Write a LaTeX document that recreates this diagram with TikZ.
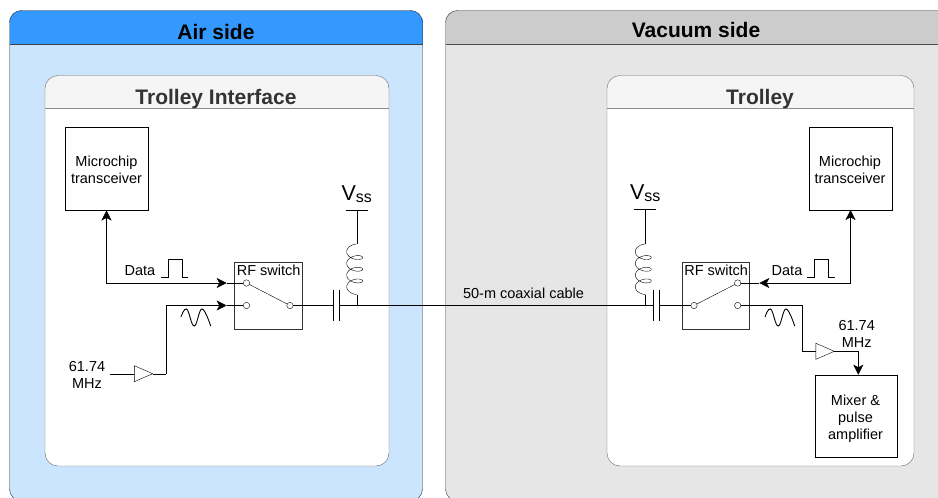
\documentclass[tikz,border=0pt]{standalone}
\usepackage{fontspec}
\setmainfont{Liberation Sans}
\usetikzlibrary{arrows.meta,shapes.geometric}
\definecolor{airhead}{HTML}{3399FF}
\definecolor{airbody}{HTML}{CCE5FF}
\definecolor{vachead}{HTML}{CCCCCC}
\definecolor{vacbody}{HTML}{E6E6E6}
\definecolor{innerhead}{HTML}{F5F5F5}
\definecolor{innerline}{HTML}{666666}
\definecolor{innertext}{HTML}{333333}
\tikzset{
  x=1pt,y=-1pt,
  every node/.style={inner sep=0pt,outer sep=0pt},
  line width=1pt,
  small/.style={font=\fontsize{14.5}{17}\selectfont,align=center},
  paneltitle/.style={font=\fontsize{21}{24}\selectfont\bfseries,text=black},
  innertitle/.style={font=\fontsize{21}{24}\selectfont\bfseries,text=innertext},
  blockbox/.style={draw=black,fill=white,minimum width=83pt,minimum height=83pt},
  switchbox/.style={draw=black!80,minimum width=67.3pt,minimum height=67pt},
  term/.style={circle,draw=black,fill=white,minimum size=6.4pt},
  ampl/.style={isosceles triangle,isosceles triangle stretches,draw=black,fill=white,
     minimum width=16pt,minimum height=18.4pt,anchor=apex},
  vsslabel/.style={font=\fontsize{21.5}{24}\selectfont},
  tipped/.style={-{Stealth[length=10pt,width=10pt,inset=2.6pt]}},
  bothtipped/.style={{Stealth[length=10pt,width=10pt,inset=2.6pt]}-{Stealth[length=10pt,width=10pt,inset=2.6pt]}},
  pics/sinewave/.style={code={
    \draw[line width=0.9pt] plot[smooth,tension=0.7] coordinates {(0,8) (5.7,0) (13.2,17) (21,0) (29.7,17)};
  }},
  pics/coil/.style={code={
    \draw[smooth] plot[domain=-104.5:1184.5,samples=160]
      ({-2-8*cos(\x)},{7.7+11.7*\x/360+4.5*sin(\x)});
  }},
  pics/pulse/.style={code={
    \draw (0,18.7) -- (7.2,18.7) -- (7.2,0) -- (21,0) -- (21,18.7) -- (27.6,18.7);
  }},
}
\newcommand{\vssnode}[2]{\node[vsslabel,anchor=base] (#1) at (#2) {V\raisebox{-2.7pt}{\fontsize{16}{16}\selectfont ss}};}
\begin{document}
\begin{tikzpicture}
\useasboundingbox (0,0) rectangle (938,498);
\fill[white] (0,0) rectangle (938,498);
\clip (0,0) rectangle (938,498);

% outer panels
\fill[airbody,rounded corners=12pt] (9.5,10.5) rectangle (422.5,501);
\fill[airhead,rounded corners=12pt] (9.5,10.5) rectangle (422.5,30);
\fill[airhead] (9.5,20) rectangle (422.5,44);
\draw[black!85,rounded corners=12pt] (9.5,10.5) rectangle (422.5,501);
\draw[black!75] (9.5,44) -- (422.5,44);
\node[paneltitle] (airtitle) at (216,31.5) {Air side};

\fill[vacbody,rounded corners=12pt] (445.5,10.5) rectangle (960,501);
\fill[vachead,rounded corners=12pt] (445.5,10.5) rectangle (960,30);
\fill[vachead] (445.5,20) rectangle (960,44);
\draw[black!80,rounded corners=12pt] (445.5,10.5) rectangle (960,501);
\draw[black!70] (445.5,44) -- (938,44);
\node[paneltitle] (vactitle) at (696,30) {Vacuum side};

% inner panels
\fill[white,rounded corners=13pt] (45,75.5) rectangle (389,466);
\fill[innerhead,rounded corners=13pt] (45,75.5) rectangle (389,100);
\fill[innerhead] (45,90) rectangle (389,108.5);
\draw[innerline,rounded corners=13pt] (45,75.5) rectangle (389,466);
\draw[black!45] (45,108.5) -- (389,108.5);
\node[innertitle] (ifacetitle) at (216,99.5) {Trolley Interface};

\fill[white,rounded corners=13pt] (607,75.5) rectangle (914,466);
\fill[innerhead,rounded corners=13pt] (607,75.5) rectangle (914,100);
\fill[innerhead] (607,90) rectangle (914,108.5);
\draw[innerline,rounded corners=13pt] (607,75.5) rectangle (914,466);
\draw[black!45] (607,108.5) -- (914,108.5);
\node[innertitle] (trolleytitle) at (760,99.5) {Trolley};

% blocks
\node[blockbox] (mcL) at (106.5,169) {};
\node[small] (mcLt) at (106.5,170) {Microchip\\transceiver};
\node[blockbox] (mcR) at (850.5,168.5) {};
\node[small] (mcRt) at (850,169.5) {Microchip\\transceiver};
\node[blockbox,minimum height=82.5pt,minimum width=82pt] (mixer) at (856,416) {};
\node[small] (mixert) at (855.5,418.5) {Mixer \&\\pulse\\amplifier};
\coordinate (mixerin) at (858.3,374.7);

% left switch
\node[switchbox] (swL) at (268.3,295.5) {};
\node[small,anchor=north] (swLt) at (268.7,264.5) {RF switch};
\node[term] (tLa) at (246.5,283) {};
\node[term] (tLb) at (246.5,305.5) {};
\node[term] (tLc) at (290,305.5) {};
\draw (tLa) -- (tLc);
% right switch
\node[switchbox] (swR) at (715.8,295.5) {};
\node[small,anchor=north] (swRt) at (716.2,264.5) {RF switch};
\node[term] (tRa) at (737.7,283) {};
\node[term] (tRb) at (737.7,305.5) {};
\node[term] (tRc) at (694,305.5) {};
\draw (tRc) -- (tRa);

% coaxial line and capacitors
\coordinate (capLa) at (333,305.5);
\coordinate (capLb) at (339,305.5);
\coordinate (capRa) at (653.3,305.5);
\coordinate (capRb) at (659.3,305.5);
\coordinate (jL) at (356.7,305.5);
\coordinate (jR) at (645.3,305.5);
\draw (tLc) -- (capLa);
\draw (capLb) -- (jL) -- (jR) -- (capRa);
\draw (capRb) -- (tRc);
\draw (333,290) -- (333,320.7) (339,290) -- (339,320.7);
\draw (653.3,290) -- (653.3,320.7) (659.3,290) -- (659.3,320.7);
\node[small] (cable) at (523.5,293) {50-m coaxial cable};

% Vss and inductors
\vssnode{vssL}{356.7,200}
\vssnode{vssR}{645.3,199}
\coordinate (barL) at (356.7,210);
\coordinate (barR) at (645.3,209);
\draw (345.7,210) -- (367.7,210);
\draw (634.3,209) -- (656.3,209);
\coordinate (coilLt) at (356.7,244);
\coordinate (coilLb) at (356.7,294.6);
\coordinate (coilRt) at (645.3,244);
\coordinate (coilRb) at (645.3,294.6);
\draw (barL) -- (coilLt);
\draw (barR) -- (coilRt);
\pic at (356.7,244) {coil};
\pic at (645.3,244) {coil};
\draw (coilLb) -- (jL);
\draw (coilRb) -- (jR);

% left signals
\coordinate (tipLa) at (226.7,283);
\coordinate (tipLb) at (226.7,305.5);
\draw[bothtipped] (mcL.south) |- (tipLa);
\draw (tipLa) -- (tLa);
\node[ampl] (ampL) at (152.7,373.7) {};
\coordinate (inL) at (110,373.7);
\draw (inL) -- (ampL.west);
\coordinate (kneeL) at (165.7,373.7);
\draw (ampL.apex) -- (kneeL);
\draw[tipped] (kneeL) |- (tipLb);
\draw (tipLb) -- (tLb);
\node[small] (freqL) at (87,374.5) {61.74\\MHz};
\node[small] (dataL) at (140,271) {Data};
\pic at (160.7,258.7) {pulse};
\pic at (181,309) {sinewave};

% right signals
\coordinate (tipRa) at (759.3,283);
\draw[bothtipped] (mcR.south) |- (tipRa);
\draw (tipRa) -- (tRa);
\node[ampl] (ampR) at (834.3,351.3) {};
\coordinate (kneeRa) at (802.3,305.5);
\draw (tRb) -- (kneeRa) |- (ampR.west);
\draw[tipped] (ampR.apex) -| (mixerin);
\node[small] (freqR) at (856.7,333.5) {61.74\\MHz};
\node[small] (dataR) at (787,271) {Data};
\pic at (807.3,258.7) {pulse};
\pic at (765,309) {sinewave};
\end{tikzpicture}
\end{document}
